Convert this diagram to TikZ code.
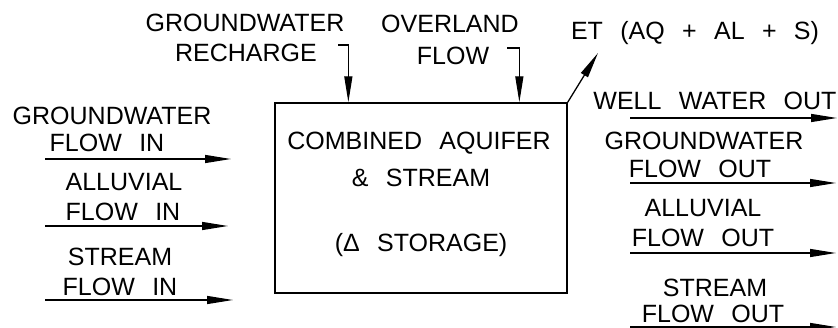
\documentclass[tikz,border=0pt]{standalone}
\usepackage{fontspec}
\setmainfont{Liberation Sans}[WordSpace=2.5]
\usetikzlibrary{arrows.meta}
\tikzset{
  lbl/.style={anchor=base, inner sep=0pt, font=\fontsize{25}{30}\selectfont},
  arr/.style={line width=1.3pt, -{Triangle[length=26pt,width=8pt]}},
  boxst/.style={draw, line width=1.3pt, minimum width=292pt, minimum height=190pt, inner sep=0pt},
}
\begin{document}
\begin{tikzpicture}[x=1pt,y=-1pt]
\useasboundingbox (0,0) rectangle (838,328);
% central box
\node[boxst] (box) at (421,198) {};
\node[lbl] (t1) at (419,150) {COMBINED AQUIFER};
\node[lbl] (t2) at (421,187) {\&\ STREAM};
\node[lbl] (t3) at (421,252) {(Δ STORAGE)};
% top labels
\node[lbl] (gr1) at (245,32) {GROUNDWATER};
\node[lbl] (gr2) at (246,62) {RECHARGE};
\node[lbl] (ov1) at (450,33) {OVERLAND};
\node[lbl] (ov2) at (453,65) {FLOW};
\node[lbl] (et) at (695,40) {ET (AQ + AL + S)};
% top connectors
\coordinate (rcs) at (338,45);
\coordinate (rce) at ([xshift=74pt]box.north west);
\draw[arr] (rcs) -| (rce);
\coordinate (ovs) at (507,48);
\coordinate (ove) at ([xshift=245pt]box.north west);
\draw[arr] (ovs) -| (ove);
\coordinate (ete) at (598,53);
\draw[arr] (box.north east) -- (ete);
% left labels
\node[lbl] (l1a) at (112,125) {GROUNDWATER};
\node[lbl] (l1b) at (107,152) {FLOW IN};
\node[lbl] (l2a) at (124,191) {ALLUVIAL};
\node[lbl] (l2b) at (123,221) {FLOW IN};
\node[lbl] (l3a) at (120,266) {STREAM};
\node[lbl] (l3b) at (120,296) {FLOW IN};
\coordinate (l1s) at (45,159);  \coordinate (l1e) at (231,159);
\coordinate (l2s) at (45,226);  \coordinate (l2e) at (228,226);
\coordinate (l3s) at (45,300);  \coordinate (l3e) at (233,300);
\draw[arr] (l1s) -- (l1e);
\draw[arr] (l2s) -- (l2e);
\draw[arr] (l3s) -- (l3e);
% right labels
\node[lbl] (r0) at (715,110) {WELL WATER OUT};
\node[lbl] (r1a) at (704,150) {GROUNDWATER};
\node[lbl] (r1b) at (700,178) {FLOW OUT};
\node[lbl] (r2a) at (703,217) {ALLUVIAL};
\node[lbl] (r2b) at (703,247) {FLOW OUT};
\node[lbl] (r3a) at (715,297) {STREAM};
\node[lbl] (r3b) at (713,323) {FLOW OUT};
\coordinate (r0s) at (630,118); \coordinate (r0e) at (837,118);
\coordinate (r1s) at (630,183); \coordinate (r1e) at (836,183);
\coordinate (r2s) at (630,253); \coordinate (r2e) at (836,253);
\coordinate (r3s) at (630,327); \coordinate (r3e) at (836,327);
\draw[arr] (r0s) -- (r0e);
\draw[arr] (r1s) -- (r1e);
\draw[arr] (r2s) -- (r2e);
\draw[arr] (r3s) -- (r3e);
\end{tikzpicture}
\end{document}
